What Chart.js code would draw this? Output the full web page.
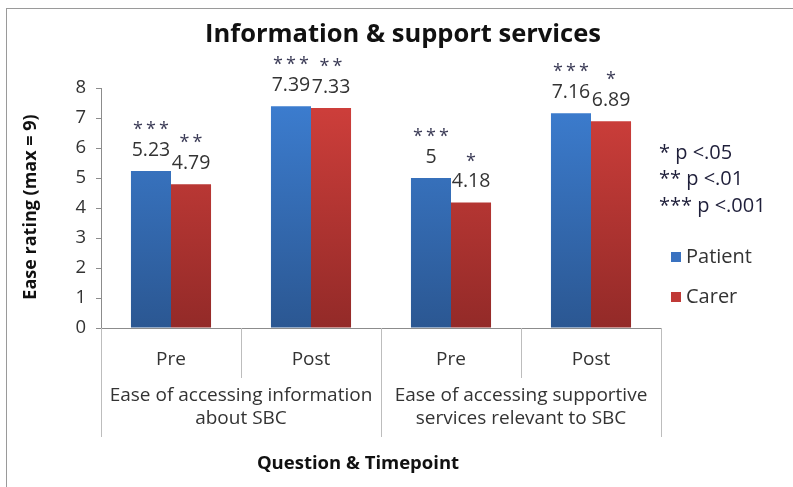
<!DOCTYPE html>
<html>
<head>
<meta charset="utf-8">
<script src="https://cdn.jsdelivr.net/npm/chart.js@4.4.1/dist/chart.umd.min.js"></script>
<style>
  html, body { margin: 0; padding: 0; background: #fff; }
  #wrap { width: 793px; height: 487px; }
</style>
</head>
<body>
<div id="wrap"><canvas id="chart" width="793" height="487"></canvas></div>
<script>
const timepoints = ['Pre', 'Post', 'Pre', 'Post'];
const questions = [
    ['Ease of accessing information', 'about SBC'],
    ['Ease of accessing supportive', 'services relevant to SBC']
];
const patientValues = [5.23, 7.39, 5, 7.16];
const carerValues = [4.79, 7.33, 4.18, 6.89];
const patientStars = ['***', '***', '***', '***'];
const carerStars = ['**', '**', '*', '*'];
const yTicks = [0, 1, 2, 3, 4, 5, 6, 7, 8];
const pNotes = ['* p <.05', '** p <.01', '*** p <.001'];

const FONT = '"Open Sans", "Noto Sans", sans-serif';
const TEXT = '#333333';

function barGradient(ctx, top, bottom) {
    const chart = ctx.chart;
    const area = chart.chartArea;
    if (!area) return top;
    const g = chart.ctx.createLinearGradient(0, area.top, 0, area.bottom);
    g.addColorStop(0, top);
    g.addColorStop(1, bottom);
    return g;
}

// texts, dividers and legend drawn around the plot
const decorations = {
    id: 'decorations',
    afterDatasetsDraw(chart) {
        const ctx = chart.ctx;
        ctx.save();

        // value labels and significance stars
        ctx.textAlign = 'center';
        [[patientValues, patientStars], [carerValues, carerStars]].forEach((pair, di) => {
            const meta = chart.getDatasetMeta(di);
            meta.data.forEach((bar, i) => {
                ctx.fillStyle = TEXT;
                ctx.font = '19.5px ' + FONT;
                ctx.textBaseline = 'middle';
                ctx.letterSpacing = '0px';
                ctx.fillText(String(pair[0][i]), bar.x, bar.y - 21);
                ctx.fillStyle = '#3a3a55';
                ctx.font = '18px ' + FONT;
                ctx.textBaseline = 'alphabetic';
                ctx.letterSpacing = '3px';
                ctx.fillText(pair[1][i], bar.x + 1.5, bar.y - 47 + 11);
            });
        });
        ctx.restore();
    },
    afterDraw(chart) {
        const ctx = chart.ctx;
        const x = chart.scales.x;
        const area = chart.chartArea;
        ctx.save();

        // outer frame
        ctx.strokeStyle = '#9a9a9a';
        ctx.lineWidth = 1;
        ctx.strokeRect(6.5, 8.5, 900, 900);

        // title
        ctx.fillStyle = '#111';
        ctx.font = 'bold 25.5px ' + FONT;
        ctx.textAlign = 'center';
        ctx.textBaseline = 'alphabetic';
        ctx.fillText('Information & support services', 403, 42);

        // category dividers below the axis
        const step = (x.right - x.left) / timepoints.length;
        ctx.strokeStyle = '#bdbdbd';
        ctx.lineWidth = 1;
        for (let i = 0; i <= timepoints.length; i++) {
            const px = Math.round(x.left + step * i) + 0.5;
            const long = i % 2 === 0;
            ctx.beginPath();
            ctx.moveTo(px, area.bottom);
            ctx.lineTo(px, long ? area.bottom + 109 : area.bottom + 50);
            ctx.stroke();
        }

        // question labels
        ctx.textBaseline = 'middle';
        ctx.fillStyle = TEXT;
        ctx.font = '19px ' + FONT;
        questions.forEach((lines, q) => {
            const cx = x.left + step * (q * 2 + 1);
            lines.forEach((line, li) => {
                ctx.fillText(line, cx, area.bottom + 68 + li * 23);
            });
        });

        // axis titles
        ctx.fillStyle = '#111';
        ctx.font = 'bold 18.5px ' + FONT;
        ctx.fillText('Question & Timepoint', 358, 464);
        ctx.save();
        ctx.translate(31, 207);
        ctx.rotate(-Math.PI / 2);
        ctx.font = 'bold 18px ' + FONT;
        ctx.fillText('Ease rating (max = 9)', 0, 0);
        ctx.restore();

        // p-value notes
        ctx.textAlign = 'left';
        ctx.fillStyle = '#1f1f3a';
        ctx.font = '20px ' + FONT;
        pNotes.forEach((t, i) => ctx.fillText(t, 659, 153 + i * 26.5));

        // legend
        const legendItems = [['Patient', '#3a72c0'], ['Carer', '#c03a37']];
        ctx.font = '20px ' + FONT;
        legendItems.forEach((item, i) => {
            const ly = 257 + i * 40;
            ctx.fillStyle = item[1];
            ctx.fillRect(671, ly - 5, 10, 10);
            ctx.fillStyle = TEXT;
            ctx.fillText(item[0], 686, ly);
        });
        ctx.restore();
    }
};

new Chart(document.getElementById('chart'), {
    type: 'bar',
    data: {
        labels: timepoints,
        datasets: [
            {
                label: 'Patient',
                data: patientValues,
                backgroundColor: ctx => barGradient(ctx, '#3d7fd3', '#2b5792'),
                borderWidth: 0
            },
            {
                label: 'Carer',
                data: carerValues,
                backgroundColor: ctx => barGradient(ctx, '#d2403c', '#932a28'),
                borderWidth: 0
            }
        ]
    },
    options: {
        responsive: false,
        animation: false,
        layout: { padding: { top: 88, right: 132, left: 0, bottom: 0 } },
        plugins: {
            legend: { display: false },
            title: { display: false },
            tooltip: { enabled: false }
        },
        datasets: {
            bar: { categoryPercentage: 0.572, barPercentage: 1 }
        },
        scales: {
            x: {
                afterFit: scale => { scale.height = 159; },
                grid: { display: false },
                border: { display: true, color: '#8c8c8c' },
                ticks: { color: TEXT, font: { family: FONT, size: 19 }, padding: 12 }
            },
            y: {
                min: 0,
                max: 8,
                afterFit: scale => { scale.width = 101; },
                afterBuildTicks: scale => { scale.ticks = yTicks.map(v => ({ value: v })); },
                grid: { drawOnChartArea: false, drawTicks: true, tickLength: 5, color: '#8c8c8c' },
                border: { display: true, color: '#8c8c8c' },
                ticks: { color: TEXT, font: { family: FONT, size: 18.5 }, padding: 10 }
            }
        }
    },
    plugins: [decorations]
});
</script>
</body>
</html>
